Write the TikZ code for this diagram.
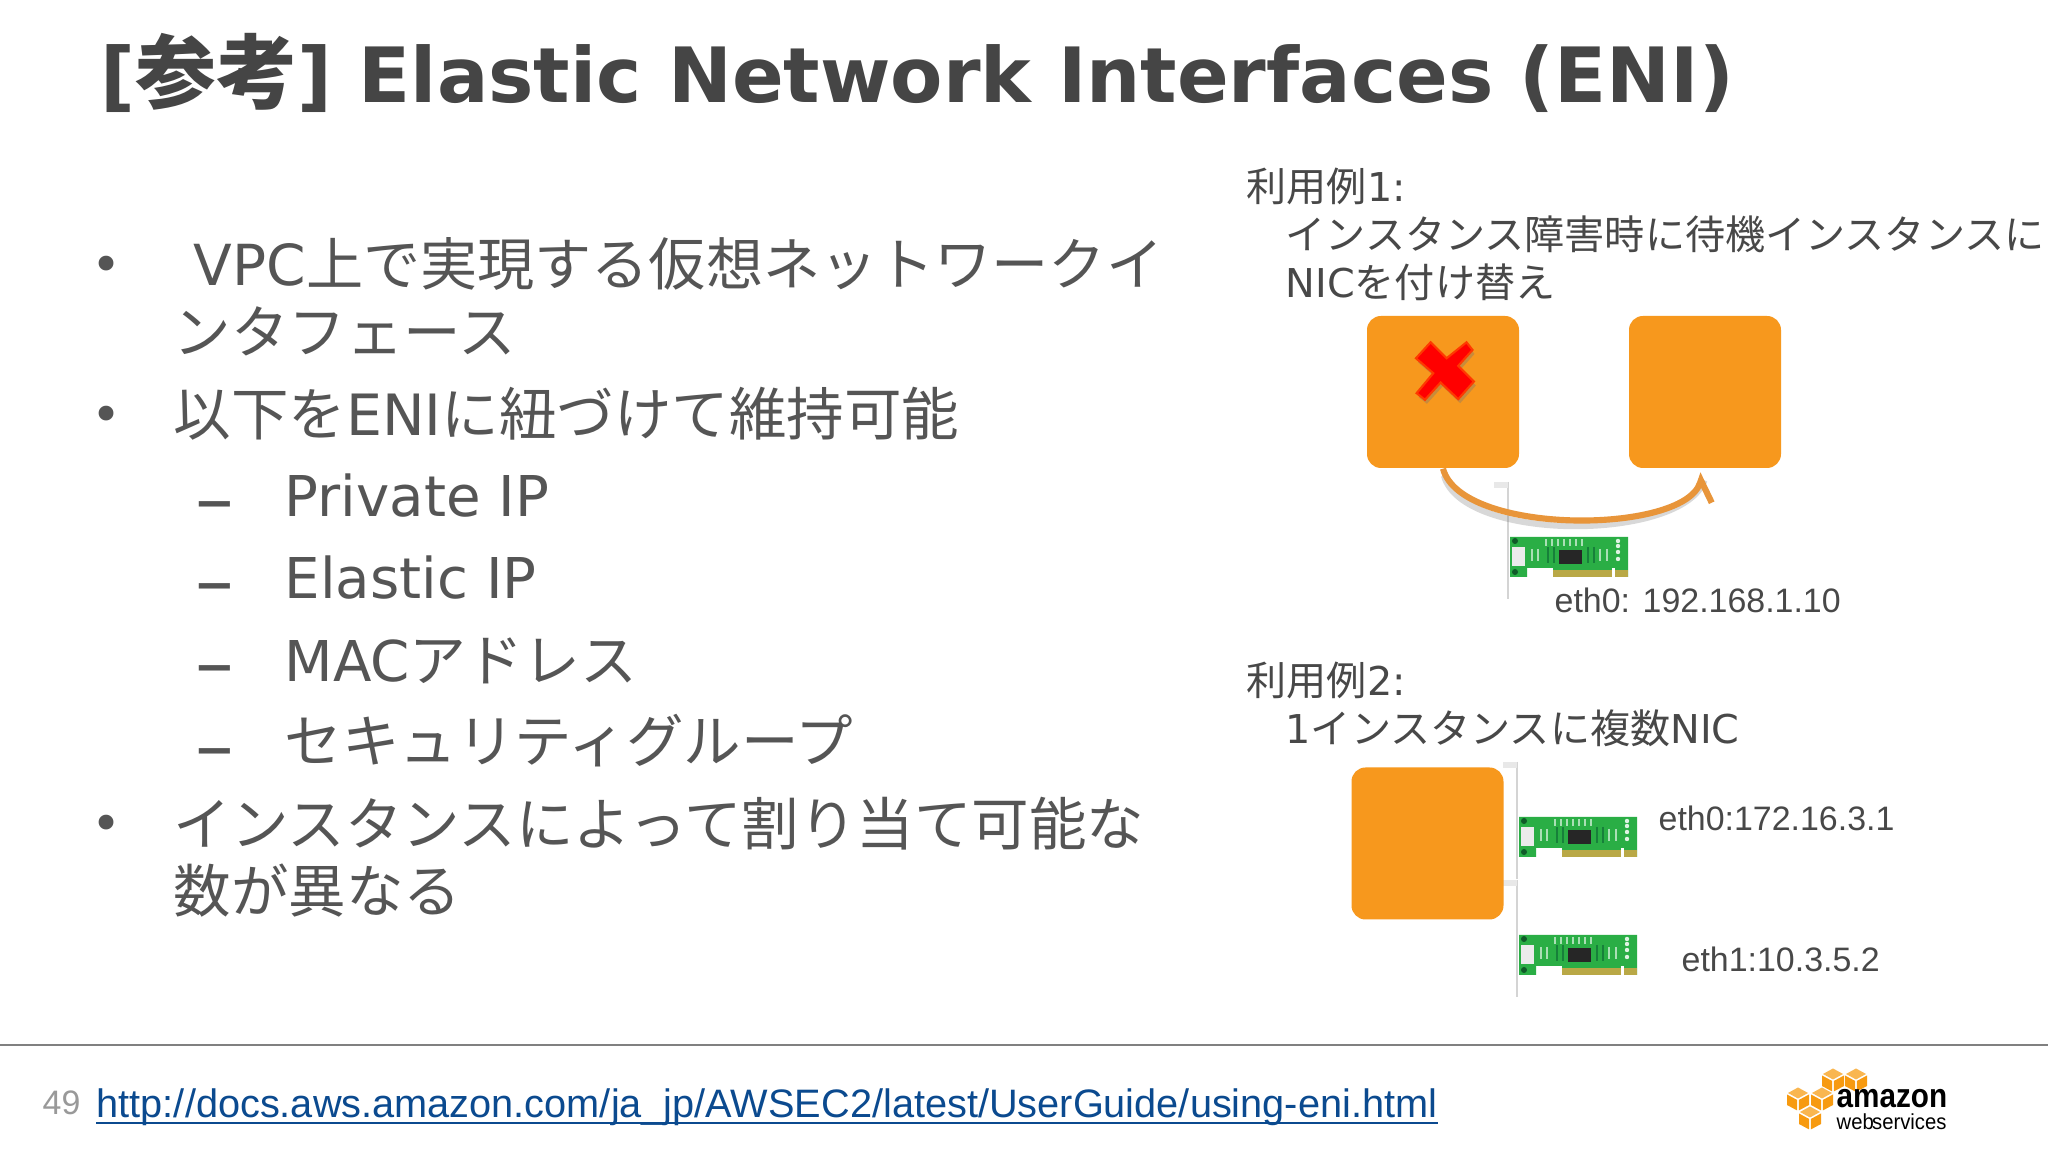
\documentclass[tikz,border=0pt]{standalone}
\usepackage{fontspec}
\usetikzlibrary{arrows.meta}
\setmainfont{DejaVu Sans}
\newfontfamily\cjk[Scale=1.01]{Noto Sans CJK JP}
\newfontfamily\arial{Liberation Sans}
\definecolor{titlegray}{HTML}{454545}
\definecolor{txtgray}{HTML}{555555}
\definecolor{sidegray}{HTML}{484848}
\definecolor{instorange}{HTML}{F7981D}
\definecolor{arcorange}{HTML}{E8953A}
\definecolor{nicgreen}{HTML}{2AAE45}
\definecolor{nicdark}{HTML}{17803A}
\definecolor{nicgold}{HTML}{B9A846}
\definecolor{linkblue}{HTML}{0B4A8F}
\definecolor{cubeorange}{HTML}{F79A10}
\definecolor{cubetop}{HTML}{F9B650}
\tikzset{
  txt/.style = {anchor=base west, inner sep=0pt, text=txtgray},
  titletxt/.style = {txt, text=titlegray, font=\fontsize{21.7}{24}\selectfont\bfseries},
  bodytxt/.style = {txt, font=\fontsize{16.2}{18}\selectfont},
  itemtxt/.style = {txt, font=\fontsize{16}{18}\selectfont},
  bullettxt/.style = {txt, anchor=center, font=\fontsize{14.5}{16}\selectfont},
  dashtxt/.style = {txt, anchor=center, font=\fontsize{22}{24}\selectfont},
  sidetxt/.style = {txt, text=sidegray, font=\fontsize{11.3}{13}\selectfont},
  ethtxt/.style = {txt, text=sidegray, font=\arial\fontsize{9.65}{11}\selectfont},
  inst/.style = {rectangle, fill=instorange, rounded corners=0.14cm, minimum width=1.52cm, minimum height=1.52cm, inner sep=0pt},
  movearc/.style = {line width=1.75pt, arcorange, -{Straight Barb[harpoon, swap, length=5pt, width=10pt]}, shorten >=1.4pt},
  bracketline/.style = {line width=0.8pt, black!17}
}
\newcommand{\niccard}[1]{
\begin{scope}[shift = {#1}]
\draw[bracketline] (-0.02,0.55) -- (-0.02,-0.62);
\fill[black!9] (-0.16,0.55) rectangle (-0.02,0.49);
\fill[nicgreen] (0,0) -- (1.18,0) -- (1.18,-0.40) -- (0.43,-0.40) -- (0.43,-0.31) -- (0.17,-0.31) -- (0.17,-0.40) -- (0,-0.40) -- cycle;
\fill[nicgold] (0.43,-0.33) rectangle (1.18,-0.40);
\fill[white] (1.02,-0.31) rectangle (1.05,-0.40);
\fill[black!8] (0.02,-0.10) rectangle (0.15,-0.29);
\fill[black!85] (0.49,-0.13) rectangle (0.72,-0.27);
\fill[nicdark!70!black] (0.05,-0.04) circle (0.03);
\fill[nicdark!70!black] (0.05,-0.35) circle (0.03);
\foreach \y in {-0.04,-0.09,-0.15,-0.22}
  \fill[white!85!nicgreen] (1.08,\y) circle (0.022);
\foreach \x in {0.38,0.44,0.78,0.84}
  \draw[nicdark, line width=0.5pt] (\x,-0.10) -- (\x,-0.26);
\foreach \x in {0.36,0.42,0.48,0.54,0.60,0.66,0.72}
  \draw[white!60!nicgreen, line width=0.3pt] (\x,-0.02) -- (\x,-0.09);
\draw[white!60!nicgreen, line width=0.3pt] (0.22,-0.12) -- (0.22,-0.24) (0.28,-0.12) -- (0.28,-0.24) (0.90,-0.12) -- (0.90,-0.24) (0.97,-0.12) -- (0.97,-0.24);
\end{scope}
}
\begin{document}
\begin{tikzpicture}
\useasboundingbox (0,0) rectangle (20.48,11.52);
\fill[white] (0,0) rectangle (20.48,11.52);

\path (1.00,10.49) node[titletxt] (T) {[{\cjk\fontsize{22.8}{24}\selectfont 参考}] Elastic Network Interfaces (ENI)};

\path (1.07,8.83) node[bullettxt] (B1) {•};
\path (1.93,8.66) node[bodytxt, font=\fontsize{16.1}{18}\selectfont] (L1) {VPC{\cjk 上で実現する仮想ネットワークイ}};
\path (1.73,7.98) node[bodytxt] (L2) {{\cjk ンタフェース}};
\path (1.07,7.33) node[bullettxt] (B2) {•};
\path (1.73,7.16) node[bodytxt] (L3) {{\cjk 以下を}ENI{\cjk に紐づけて維持可能}};
\path (2.15,6.38) node[dashtxt] (D1) {–};
\path (2.84,6.35) node[itemtxt] (L4) {Private IP};
\path (2.15,5.56) node[dashtxt] (D2) {–};
\path (2.84,5.53) node[itemtxt] (L5) {Elastic IP};
\path (2.15,4.74) node[dashtxt] (D3) {–};
\path (2.84,4.70) node[itemtxt] (L6) {MAC{\cjk アドレス}};
\path (2.15,3.91) node[dashtxt] (D4) {–};
\path (2.84,3.89) node[bodytxt] (L7) {{\cjk セキュリティグループ}};
\path (1.07,3.24) node[bullettxt] (B3) {•};
\path (1.73,3.06) node[bodytxt] (L8) {{\cjk インスタンスによって割り当て可能な}};
\path (1.73,2.39) node[bodytxt] (L9) {{\cjk 数が異なる}};

\path (12.46,9.50) node[sidetxt] (S1) {{\cjk 利用例}1:};
\path (12.85,9.02) node[sidetxt] (S2) {{\cjk インスタンス障害時に待機インスタンスに}};
\path (12.85,8.54) node[sidetxt] (S3) {NIC{\cjk を付け替え}};
\path (12.46,4.56) node[sidetxt] (S4) {{\cjk 利用例}2:};
\path (12.85,4.08) node[sidetxt] (S5) {1{\cjk インスタンスに複数}NIC};

\niccard{(15.10,6.15)}
\niccard{(15.19,3.35)}
\niccard{(15.19,2.17)}

\path (14.43,7.60) node[inst] (A) {};
\path (17.05,7.60) node[inst] (B) {};
\path (14.275,3.085) node[inst] (C) {};

\draw[movearc, black!50, opacity=0.3, -] ([xshift=0.1mm,yshift=-0.7mm]A.south) .. controls +(0.18,-0.67) and +(-0.23,-0.66) .. ([xshift=0.1mm,yshift=-0.7mm]B.south);
\draw[movearc] (A.south) .. controls +(0.18,-0.67) and +(-0.23,-0.66) .. (B.south);

\begin{scope}[shift = {(14.00,8.22)}, x = 0.00333cm, y = -0.00333cm]
\fill[black!55, opacity=0.35, shift = {(6,12)}] (92,37) -- (140,85) -- (200,37) -- (218,60) -- (175,108) -- (222,155) -- (175,208) -- (122,158) -- (75,210) -- (50,190) -- (100,130) -- (48,85) -- cycle;
\filldraw[fill=red, draw=red!55!orange, line width=0.6pt] (92,37) -- (140,85) -- (200,37) -- (218,60) -- (175,108) -- (222,155) -- (175,208) -- (122,158) -- (75,210) -- (50,190) -- (100,130) -- (48,85) -- cycle;
\end{scope}

\path (15.54,5.39) node[ethtxt] (E1) {eth0: 192.168.1.10};
\path (16.58,3.21) node[ethtxt] (E2) {eth0:172.16.3.1};
\path (16.81,1.80) node[ethtxt] (E3) {eth1:10.3.5.2};

\coordinate (RL) at (0,1.07);
\coordinate (RR) at (20.48,1.07);
\draw[black!50, line width=0.35pt] (RL) -- (RR);

\path (0.42,0.37) node[ethtxt, text=black!40] (P) {49};
\path (0.96,0.34) node[ethtxt, text=linkblue, font=\arial\fontsize{11.3}{13}\selectfont] (U) {http://docs.aws.amazon.com/ja\_jp/AWSEC2/latest/UserGuide/using-eni.html};
\draw[linkblue, line width=0.4pt] ([yshift=-0.5mm]U.base west) -- ([yshift=-0.5mm]U.base east);

\foreach \x/\y in {18.33/0.72, 18.56/0.72, 17.98/0.53, 18.22/0.53, 18.10/0.34} {
\begin{scope}[shift = {(\x,\y)}]
\fill[cubetop] (-0.10,0.06) -- (0,0.115) -- (0.10,0.06) -- (0,0.005) -- cycle;
\fill[cubeorange] (-0.11,0.045) -- (-0.008,-0.01) -- (-0.008,-0.115) -- (-0.11,-0.06) -- cycle;
\fill[cubeorange] (0.11,0.045) -- (0.008,-0.01) -- (0.008,-0.115) -- (0.11,-0.06) -- cycle;
\end{scope}
}
\path (18.36,0.44) node[anchor=base west, inner sep=0pt, font=\arial\fontsize{9.6}{11}\selectfont\bfseries, xscale=0.88, transform shape] (AZ) {amazon};
\path (18.36,0.22) node[anchor=base west, inner sep=0pt, font=\arial\fontsize{6.2}{7}\selectfont, xscale=0.93, transform shape] (WS) {web\hspace{-0.5pt}services};
\end{tikzpicture}
\end{document}
